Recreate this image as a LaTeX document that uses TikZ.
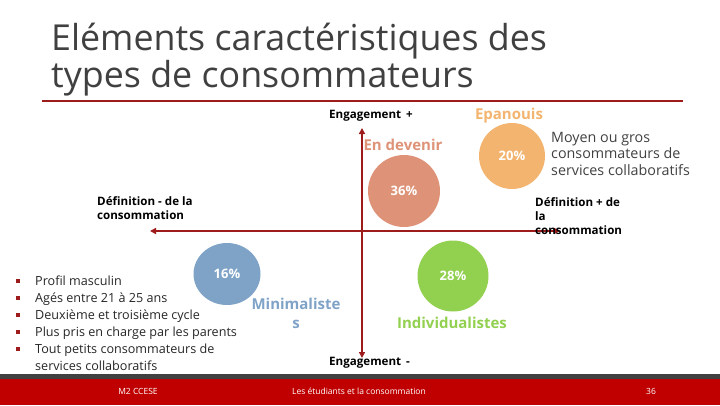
\documentclass[tikz,border=0pt]{standalone}
\usepackage{fontspec}
\setmainfont{Open Sans}
\usepackage{tikz}
\usetikzlibrary{arrows.meta,shapes.geometric}
\definecolor{axisred}{RGB}{158,27,27}
\definecolor{titlegray}{RGB}{64,64,64}
\definecolor{footred}{RGB}{192,0,0}
\definecolor{footgray}{RGB}{64,64,64}
\definecolor{epaorange}{RGB}{242,180,110}
\definecolor{devsalmon}{RGB}{222,147,120}
\definecolor{minblue}{RGB}{127,163,199}
\definecolor{indgreen}{RGB}{146,208,80}
\tikzset{
  bubble/.style={circle,fill=#1,minimum size=66pt,inner sep=0pt,text=white,font=\fontsize{13}{13}\selectfont\bfseries},
  axis/.style={axisred,line width=2.6pt,{Triangle[length=6pt,width=6pt]}-{Triangle[length=6pt,width=6pt]}},
  axislabel/.style={font=\fontsize{11.6}{14}\selectfont\bfseries,align=left,inner sep=0pt},
  typename/.style={text=#1,font=\fontsize{15}{18}\selectfont\bfseries,inner sep=0pt},
  foottext/.style={text=white,font=\fontsize{8.5}{10}\selectfont,inner sep=0pt}
}

\begin{document}
\begin{tikzpicture}[x=1pt,y=-1pt]
\useasboundingbox (0,0) rectangle (720,405);
%\draw [help lines,step=20] (0,0) grid (720,405);
\node[anchor=base west,align=left,text=titlegray,font=\fontsize{35.8}{35}\selectfont,inner sep=0pt] (title) at (51,87) {El\'ements caract\'eristiques des\\types de consommateurs};
\draw [axisred,line width=1.5pt] (42,101) -- (683,101);
% axes
\coordinate (up) at (362,128); \coordinate (down) at (362,358); \coordinate (left) at (150,231); \coordinate (right) at (560,231);
\draw [axis] (left) -- (right); \draw [axis] (up) -- (down);
\node[axislabel,anchor=west] (engplus) at (329,116) {Engagement\, +};
\node[axislabel,anchor=west] (engmin) at (329,363) {Engagement\, -};
\node[axislabel,anchor=north west] (defmin) at (97,196) {D\'efinition - de la\\consommation};
\node[axislabel,anchor=north west] (defplus) at (535,197) {D\'efinition + de\\la\\consommation};
% types
\node[bubble=epaorange] (epa) at (512,156) {20\%}; \node[typename=epaorange] (epaname) at (509,116) {Epanouis};
\node[bubble=devsalmon,minimum size=72pt] (dev) at (404,191) {36\%}; \node[typename=devsalmon] (devname) at (403,145) {En devenir};
\node[bubble=minblue,ellipse,minimum width=67pt,minimum height=62pt] (mini) at (227,274) {16\%};
\node[typename=minblue,align=center,font=\fontsize{15}{19}\selectfont\bfseries,anchor=north] (minname) at (296,298) {Minimaliste\\s};
\node[bubble=indgreen,minimum size=71pt] (ind) at (453,276) {28\%}; \node[typename=indgreen] (indname) at (452,323) {Individualistes};
\node[anchor=north west,align=left,text=titlegray,font=\fontsize{14.3}{16.5}\selectfont,inner sep=0pt] (epatext) at (551,132) {Moyen ou gros\\consommateurs de\\services collaboratifs};
\node[anchor=north west,inner sep=0pt,text=black!85,font=\fontsize{12.6}{17}\selectfont] (profil) at (16,273) {\begin{tabular}{@{}l@{\hspace{15pt}}l@{}}
\textcolor{axisred}{\rule[2.5pt]{4pt}{4pt}} & Profil masculin\\
\textcolor{axisred}{\rule[2.5pt]{4pt}{4pt}} & Ag\'es entre 21 \`a 25 ans\\
\textcolor{axisred}{\rule[2.5pt]{4pt}{4pt}} & Deuxi\`eme et troisi\`eme cycle\\
\textcolor{axisred}{\rule[2.5pt]{4pt}{4pt}} & Plus pris en charge par les parents\\
\textcolor{axisred}{\rule[2.5pt]{4pt}{4pt}} & Tout petits consommateurs de\\
 & services collaboratifs
\end{tabular}};
% footer
\fill [footgray] (0,374) rectangle (720,379); \fill [footred] (0,379) rectangle (720,405);
\node[foottext] (master) at (138,391) {M2 CCESE}; \node[foottext] (theme) at (359,391) {Les \'etudiants et la consommation}; \node[foottext] (page) at (651,391) {36};
\end{tikzpicture}
\end{document}
